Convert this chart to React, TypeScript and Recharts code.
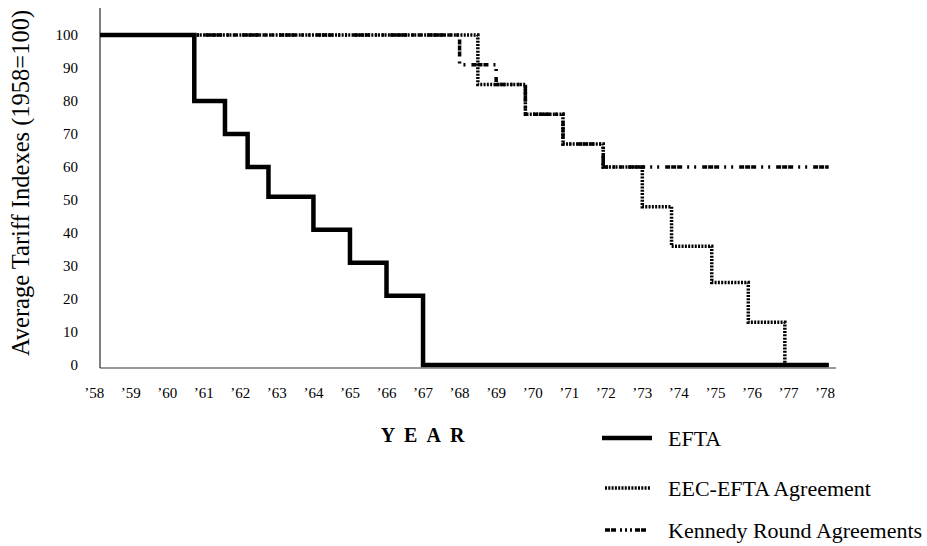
import React from 'react';
import { LineChart, Line, XAxis, YAxis } from 'recharts';

// year ticks ('58 .. '78) and index ticks
const yearTicks = [58, 59, 60, 61, 62, 63, 64, 65, 66, 67, 68, 69, 70, 71, 72, 73, 74, 75, 76, 77, 78];
const indexTicks = [0, 10, 20, 30, 40, 50, 60, 70, 80, 90, 100];

// EFTA
const eftaYears = [58, 60.74, 61.58, 62.2, 62.77, 64, 65, 66, 67, 78.1];
const eftaValues = [100, 80, 70, 60, 51, 41, 31, 21, 0, 0];

// EEC-EFTA Agreement
const eecYears = [58, 68.5, 69.8, 70.83, 71.93, 73, 73.8, 74.9, 75.9, 76.9, 78.1];
const eecValues = [100, 85, 76, 67, 60, 48, 36, 25, 13, 0, 0];

// Kennedy Round Agreements
const kennedyYears = [58, 68, 69, 69.8, 70.83, 71.93, 78.1];
const kennedyValues = [100, 91, 85, 76, 67, 60, 60];

const toPoints = (years: number[], values: number[]) =>
  years.map((year, i) => ({ year, value: values[i] }));

const eftaData = toPoints(eftaYears, eftaValues);
const eecData = toPoints(eecYears, eecValues);
const kennedyData = toPoints(kennedyYears, kennedyValues);

const serif = '"Liberation Serif", "Times New Roman", serif';
const kennedyDash = '5 1 5 1 5 5 2 5 2 6';
const eecDash = '2 1.3';

export default function App() {
  return (
    <div style={{ position: 'absolute', left: 0, top: 0, width: 927, height: 546, background: '#fff' }}>
      <LineChart
        width={927}
        height={546}
        margin={{ top: 8, right: 91, bottom: 148, left: 60 }}
      >
        <XAxis
          dataKey="year"
          type="number"
          domain={[58.16, 78.3]}
          allowDataOverflow
          ticks={yearTicks}
          interval={0}
          height={30}
          tickLine={false}
          tickSize={0}
          tickMargin={19}
          stroke="#333"
          tick={{ fontFamily: serif, fontSize: 15, fill: '#000' }}
          tickFormatter={(v: number) => `\u2019${v}`}
        />
        <YAxis
          type="number"
          domain={[-0.9, 108.2]}
          allowDataOverflow
          ticks={indexTicks}
          interval={0}
          width={40}
          tickLine={false}
          tickSize={0}
          tickMargin={22}
          stroke="#000"
          tick={{ fontFamily: serif, fontSize: 15, fill: '#000' }}
        />
        <Line
          data={kennedyData}
          dataKey="value"
          type="stepAfter"
          stroke="#000"
          strokeWidth={3.5}
          strokeDasharray={kennedyDash}
          dot={false}
          isAnimationActive={false}
        />
        <Line
          data={eecData}
          dataKey="value"
          type="stepAfter"
          stroke="#000"
          strokeWidth={3.5}
          strokeDasharray={eecDash}
          dot={false}
          isAnimationActive={false}
        />
        <Line
          data={eftaData}
          dataKey="value"
          type="stepAfter"
          stroke="#000"
          strokeWidth={4.5}
          dot={false}
          isAnimationActive={false}
        />
      </LineChart>

      <svg
        width={927}
        height={546}
        style={{ position: 'absolute', left: 0, top: 0, pointerEvents: 'none' }}
      >
        <text
          transform="translate(29,183) rotate(-90)"
          textAnchor="middle"
          fontFamily={serif}
          fontSize={24.5}
          fill="#000"
        >
          Average Tariff Indexes (1958=100)
        </text>
        <text
          x={427}
          y={442}
          textAnchor="middle"
          fontFamily={serif}
          fontSize={20}
          fontWeight="bold"
          letterSpacing={9}
          fill="#000"
        >
          YEAR
        </text>

        <line x1={602} x2={652} y1={438} y2={438} stroke="#000" strokeWidth={4.5} />
        <text x={668} y={438} dy="0.35em" fontFamily={serif} fontSize={22} fill="#000">EFTA</text>

        <line x1={605} x2={650} y1={488} y2={488} stroke="#000" strokeWidth={3.5} strokeDasharray={eecDash} />
        <text x={668} y={488} dy="0.35em" fontFamily={serif} fontSize={22} fill="#000">EEC-EFTA Agreement</text>

        <line x1={605} x2={650} y1={530} y2={530} stroke="#000" strokeWidth={3.5} strokeDasharray="5 1 5 4 2 3 2 3 2 3" />
        <text x={668} y={530} dy="0.35em" fontFamily={serif} fontSize={22} fill="#000">Kennedy Round Agreements</text>
      </svg>
    </div>
  );
}
